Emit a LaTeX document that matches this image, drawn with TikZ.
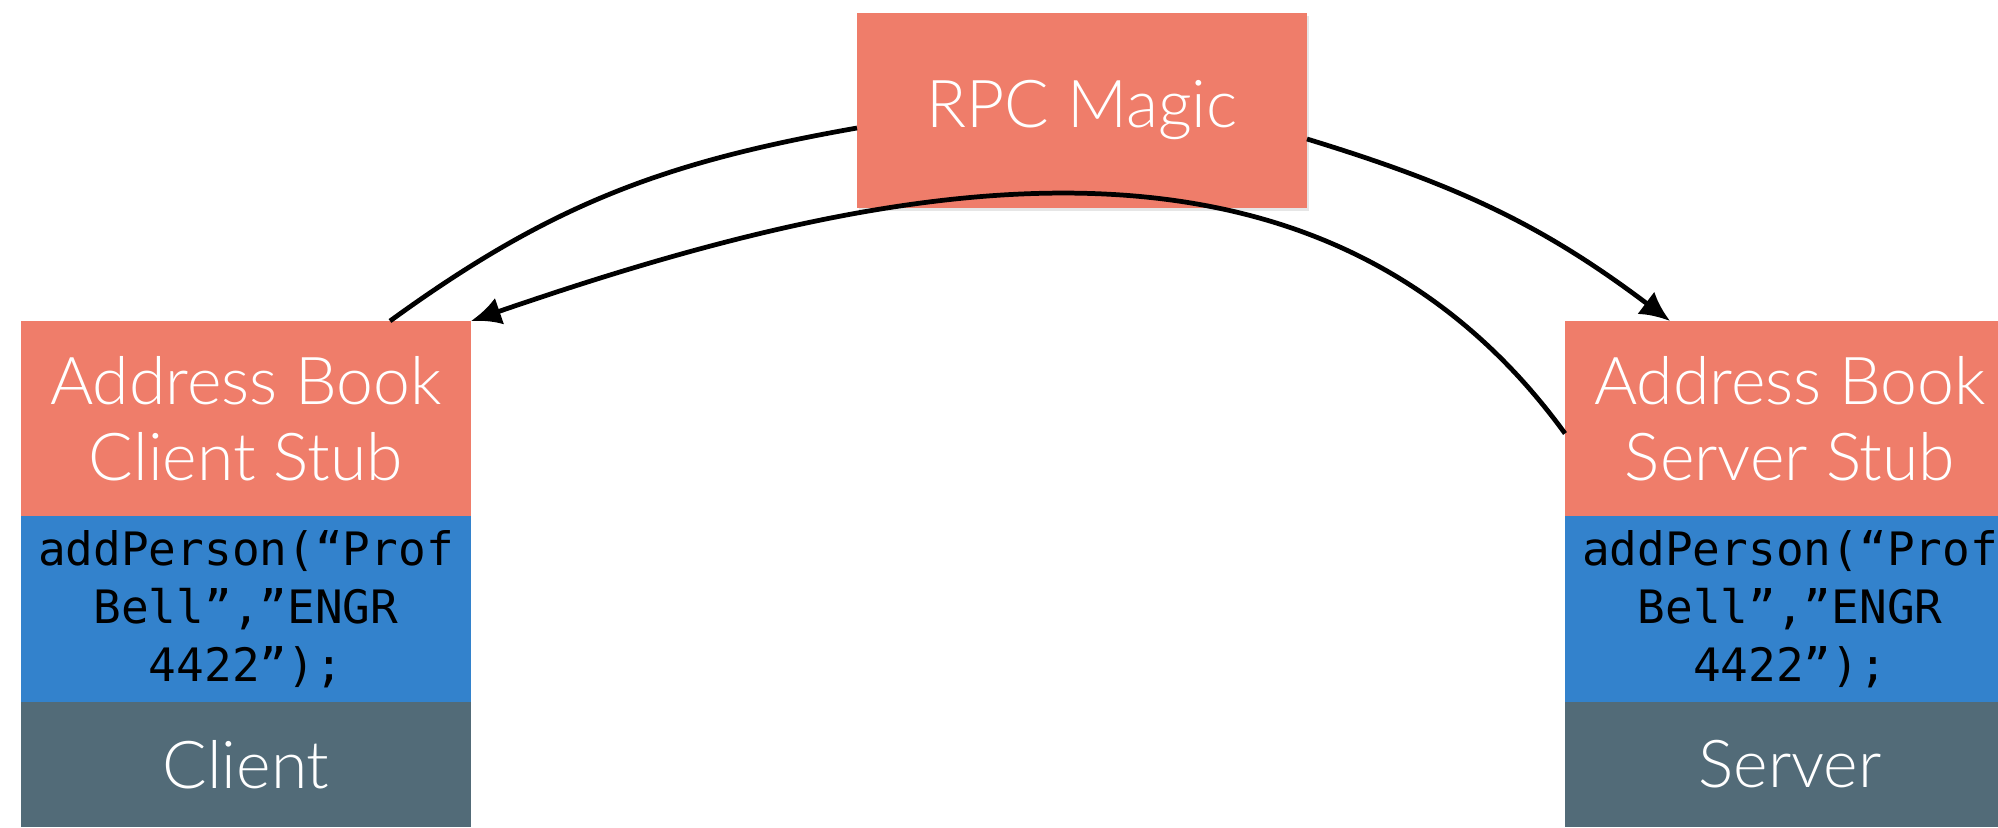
\documentclass[tikz,border=0pt]{standalone}
\usepackage{fontspec}
\setmainfont{Lato}[UprightFont={* Light}]
\newfontfamily\codefont{DejaVu Sans Mono}
\usetikzlibrary{positioning, arrows.meta, shadows}
\definecolor{stubred}{HTML}{EF7D6A}
\definecolor{callblue}{HTML}{3382CC}
\definecolor{hostgray}{HTML}{526B78}

\begin{document}
\begin{tikzpicture}[
    box/.style={minimum width=4.5cm, inner sep=0pt, outer sep=0pt, align=center,
        text=white, font=\fontsize{18.8}{21.6}\selectfont},
    stub/.style={box, fill=stubred, minimum height=1.95cm},
    call/.style={box, fill=callblue, minimum height=1.86cm, text=black,
        font=\codefont\fontsize{13.1}{16.5}\selectfont},
    host/.style={box, fill=hostgray, minimum height=1.25cm},
    shade/.style={drop shadow={opacity=0.2, shadow xshift=0.02cm, shadow yshift=-0.03cm}},
    link/.style={line width=1.35pt, black},
    tip/.style={-{Latex[length=0.3cm, width=0.28cm]}}
]
\useasboundingbox (0,0) rectangle (19.98,8.27);
\clip (0,0) rectangle (19.98,8.27);

\node[stub, shade] (magic) at (10.82,7.17) {RPC Magic};

\node[stub] (clientStub) at (2.46,4.085) {Address Book\\Client Stub};
\node[call, below=0pt of clientStub] (clientCall) {addPerson(“Prof\\Bell”,”ENGR\\4422”);};
\node[host, below=0pt of clientCall] (client) {Client};

\node[stub] (serverStub) at (17.90,4.085) {Address Book\\Server Stub};
\node[call, below=0pt of serverStub] (serverCall) {addPerson(“Prof\\Bell”,”ENGR\\4422”);};
\node[host, below=0pt of serverCall] (server) {Server};

\draw[link] ([yshift=-0.18cm]magic.west) to[out=190, in=36] ([xshift=1.44cm]clientStub.north);
\draw[link, tip] ([yshift=-0.29cm]magic.east) to[out=343, in=143] ([xshift=-1.2cm]serverStub.north);
\draw[link, tip] ([yshift=-0.15cm]serverStub.west) to[out=126, in=19] (clientStub.north east);
\end{tikzpicture}
\end{document}
